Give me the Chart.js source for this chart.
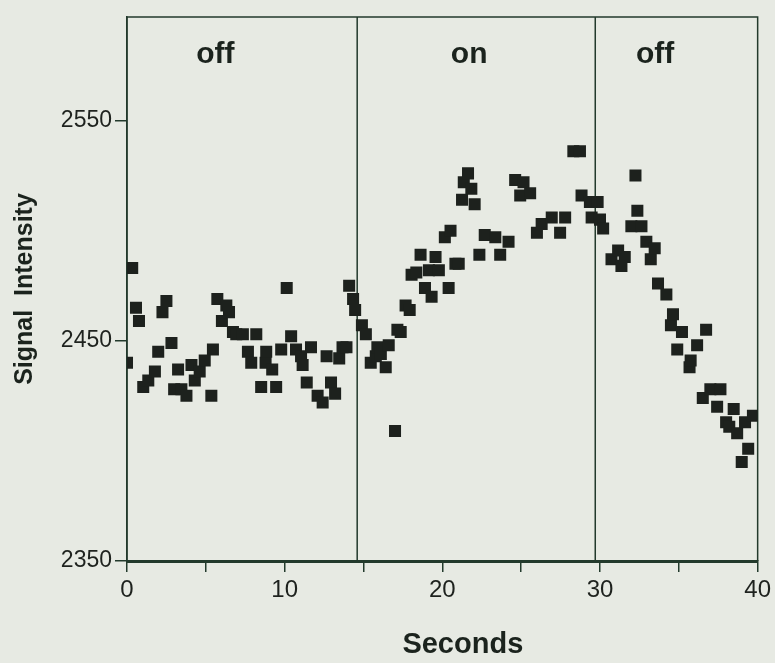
<!DOCTYPE html>
<html>
<head>
<meta charset="utf-8">
<script src="https://cdn.jsdelivr.net/npm/chart.js@4.4.1/dist/chart.umd.min.js"></script>
<style>
    body { margin: 0; background: #e7eae3; }
    canvas { display: block; }
</style>
</head>
<body>
<canvas id="chart" width="775" height="663"></canvas>
<script>
// tempo (s) e intensidade
const seconds = [
    0.0, 0.33, 0.57, 0.76, 1.03, 1.35, 1.77, 1.98, 2.25, 2.5,
    2.82, 2.99, 3.24, 3.45, 3.77, 4.09, 4.3, 4.61, 4.93, 5.35,
    5.45, 5.73, 6.02, 6.3, 6.47, 6.72, 6.93, 7.35, 7.67, 7.88,
    8.2, 8.51, 8.79, 8.83, 9.21, 9.46, 9.78, 10.13, 10.41, 10.72,
    11.04, 11.14, 11.4, 11.67, 12.09, 12.41, 12.66, 12.94, 13.2, 13.46,
    13.67, 13.92, 14.09, 14.34, 14.47, 14.9, 15.15, 15.46, 15.78, 15.88,
    16.1, 16.41, 16.6, 17.0, 17.15, 17.36, 17.67, 17.93, 18.05, 18.35,
    18.62, 18.9, 19.15, 19.32, 19.57, 19.78, 20.16, 20.4, 20.52, 20.83,
    21.04, 21.25, 21.36, 21.63, 21.84, 22.05, 22.35, 22.69, 23.36, 23.67,
    24.2, 24.62, 24.94, 25.15, 25.57, 26.0, 26.3, 26.94, 27.47, 27.79,
    28.31, 28.73, 28.83, 29.36, 29.47, 29.85, 30.0, 30.2, 30.73, 31.15,
    31.36, 31.57, 31.99, 32.25, 32.37, 32.63, 32.94, 33.22, 33.47, 33.68,
    34.21, 34.5, 34.63, 34.9, 35.2, 35.68, 35.75, 36.16, 36.52, 36.73,
    37.0, 37.43, 37.64, 38.0, 38.2, 38.48, 38.7, 38.99, 39.2, 39.4,
    39.7
];
const signal = [
    2440, 2483, 2465, 2459, 2429, 2432, 2436, 2445, 2463, 2468,
    2449, 2428, 2437, 2428, 2425, 2439, 2432, 2436, 2441, 2425,
    2446, 2469, 2459, 2466, 2463, 2454, 2453, 2453, 2445, 2440,
    2453, 2429, 2440, 2445, 2437, 2429, 2446, 2474, 2452, 2446,
    2443, 2439, 2431, 2447, 2425, 2422, 2443, 2431, 2426, 2442,
    2447, 2447, 2475, 2469, 2464, 2457, 2453, 2440, 2443, 2447,
    2444, 2438, 2448, 2409, 2455, 2454, 2466, 2464, 2480, 2481,
    2489, 2474, 2482, 2470, 2488, 2482, 2497, 2474, 2500, 2485,
    2485, 2514, 2522, 2526, 2519, 2512, 2489, 2498, 2497, 2489,
    2495, 2523, 2516, 2522, 2517, 2499, 2503, 2506, 2499, 2506,
    2536, 2536, 2516, 2513, 2506, 2513, 2505, 2501, 2487, 2491,
    2484, 2488, 2502, 2525, 2509, 2502, 2495, 2487, 2492, 2476,
    2471, 2457, 2462, 2446, 2454, 2438, 2441, 2448, 2424, 2455,
    2428, 2420, 2428, 2413, 2411, 2419, 2408, 2395, 2413, 2401,
    2416
];

const xTicks = [0, 5, 10, 15, 20, 25, 30, 35, 40];
const xTickLabels = ['0', '', '10', '', '20', '', '30', '', '40'];
const yTicks = [2350, 2450, 2550];

// limites das fases e rótulos
const phaseEdges = [14.6, 29.7];
const phaseLabels = ['off', 'on', 'off'];
const phaseLabelX = [5.6, 21.7, 33.5];
const phaseLabelY = 2580;

const lineColor = '#233a2c';
const textColor = '#1b231d';
const fontFamily = '"Liberation Sans", Arial, sans-serif';

const framePlugin = {
    id: 'frame',
    beforeDraw(chart) {
        const c = chart.ctx;
        c.save();
        c.fillStyle = '#e7eae3';
        c.fillRect(0, 0, chart.width, chart.height);
        c.restore();
    },
    beforeDatasetsDraw(chart) {
        const c = chart.ctx;
        const area = chart.chartArea;
        const xs = chart.scales.x;
        const ys = chart.scales.y;
        c.save();
        c.strokeStyle = lineColor;
        c.lineWidth = 1.5;
        c.beginPath();
        c.moveTo(area.left, area.bottom);
        c.lineTo(area.left, area.top);
        c.lineTo(area.right, area.top);
        c.lineTo(area.right, area.bottom);
        phaseEdges.forEach(v => {
            const px = xs.getPixelForValue(v);
            c.moveTo(px, area.top);
            c.lineTo(px, area.bottom);
        });
        c.stroke();

        c.fillStyle = textColor;
        c.font = 'bold 30px ' + fontFamily;
        c.textAlign = 'center';
        c.textBaseline = 'middle';
        phaseLabels.forEach((txt, i) => {
            c.fillText(txt, xs.getPixelForValue(phaseLabelX[i]), ys.getPixelForValue(phaseLabelY));
        });

        // título do eixo x (no original fica um pouco à direita do centro)
        c.font = 'bold 29px ' + fontFamily;
        c.fillText('Seconds', xs.getPixelForValue(21.3), 645);
        c.restore();
    }
};

const ctx = document.getElementById('chart').getContext('2d');
const chart = new Chart(ctx, {
    type: 'scatter',
    data: {
        datasets: [{
            label: 'Signal Intensity',
            data: seconds.map((s, i) => ({ x: s, y: signal[i] })),
            pointStyle: 'rect',
            pointRadius: 8.5,
            backgroundColor: '#1d211d',
            borderWidth: 0
        }]
    },
    options: {
        responsive: false,
        animation: false,
        layout: { padding: { top: 17, right: 15, left: 0, bottom: 0 } },
        plugins: {
            legend: { display: false },
            tooltip: { enabled: false }
        },
        scales: {
            x: {
                type: 'linear',
                min: 0,
                max: 40,
                afterBuildTicks: scale => { scale.ticks = xTicks.map(v => ({ value: v })); },
                afterFit: scale => { scale.height = 102; },
                ticks: {
                    autoSkip: false,
                    maxRotation: 0,
                    padding: 4,
                    color: '#1e221e',
                    font: { family: fontFamily, size: 24 },
                    callback: (value, i) => xTickLabels[i]
                },
                grid: { drawOnChartArea: false, tickLength: 11, color: lineColor, lineWidth: 1.5 },
                border: { display: true, color: lineColor, width: 3 },
                title: { display: false }
            },
            y: {
                min: 2350,
                max: 2597,
                afterBuildTicks: scale => { scale.ticks = yTicks.map(v => ({ value: v })); },
                afterFit: scale => { scale.width = 127; },
                ticks: {
                    padding: 3,
                    color: '#1e221e',
                    font: { family: fontFamily, size: 23 },
                    callback: value => String(value)
                },
                grid: { drawOnChartArea: false, tickLength: 12, color: lineColor, lineWidth: 1.5 },
                border: { display: true, color: lineColor, width: 1.5 },
                title: {
                    display: true,
                    text: 'Signal  Intensity',
                    color: textColor,
                    font: { family: fontFamily, size: 25, weight: 'bold' },
                    padding: { top: 10, bottom: 0 }
                }
            }
        }
    },
    plugins: [framePlugin]
});
</script>
</body>
</html>
